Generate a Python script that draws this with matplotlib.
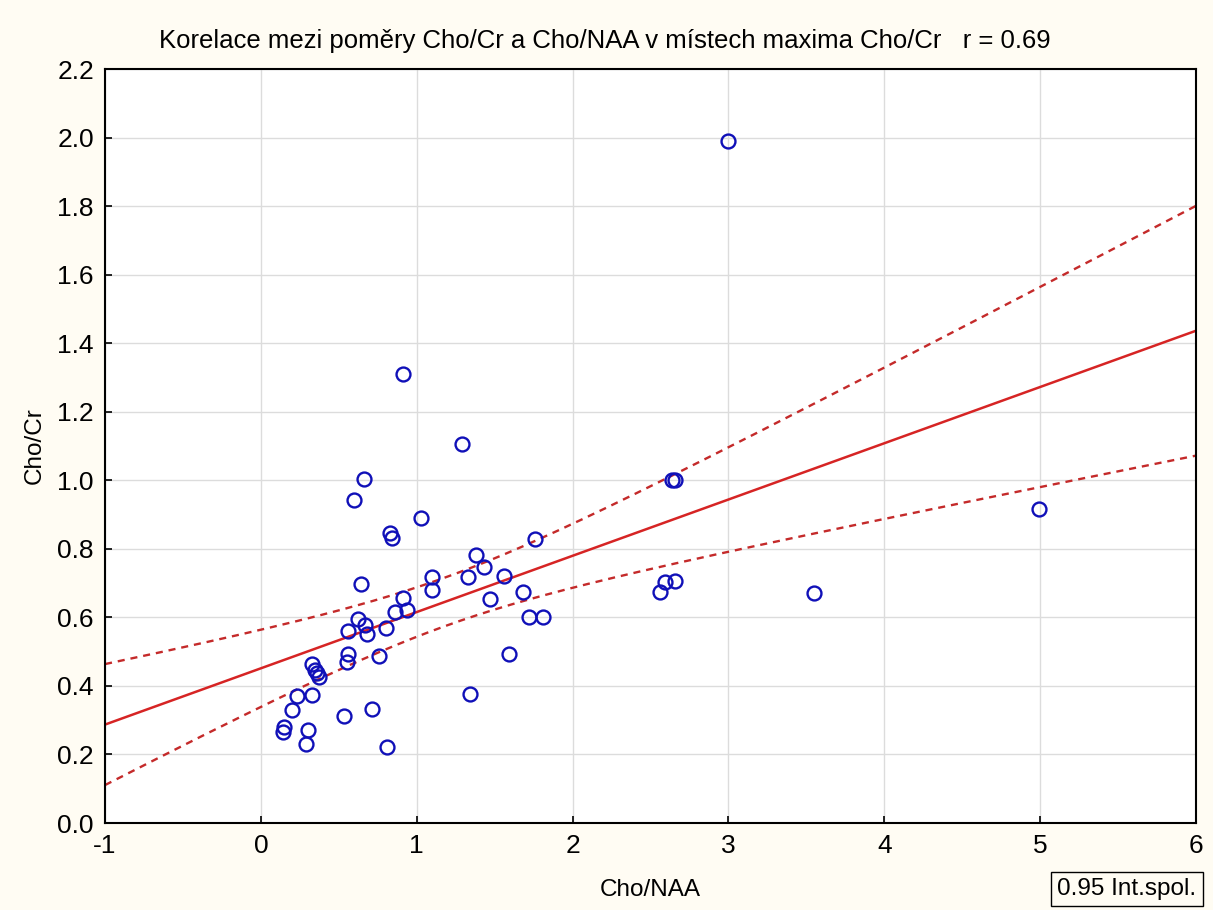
import numpy as np
import matplotlib
matplotlib.use('Agg')
import matplotlib.pyplot as plt

plt.rcParams['axes.unicode_minus'] = False
FONT = ['Liberation Sans', 'DejaVu Sans']

# --- data ---
cho_naa = [0.91, 1.29, 0.66, 0.60, 1.03, 0.83, 0.84, 1.76,
           1.38, 1.43, 1.10, 1.10, 1.33, 1.56, 1.68, 1.47, 1.72, 1.81, 1.59, 1.34,
           0.64, 0.91, 0.86, 0.94, 0.62, 0.67, 0.68, 0.56, 0.80,
           0.56, 0.55, 0.76, 0.33, 0.35, 0.36, 0.37,
           0.23, 0.33, 0.20, 0.15, 0.14, 0.30, 0.29, 0.53, 0.71, 0.81,
           3.00, 2.64, 2.655, 2.56, 2.59, 2.66, 3.55, 4.99]
cho_cr = [1.31, 1.107, 1.003, 0.943, 0.889, 0.845, 0.832, 0.829,
          0.781, 0.748, 0.719, 0.679, 0.717, 0.722, 0.675, 0.653, 0.600, 0.600, 0.493, 0.376,
          0.697, 0.657, 0.617, 0.621, 0.596, 0.577, 0.551, 0.561, 0.570,
          0.493, 0.471, 0.487, 0.464, 0.446, 0.437, 0.427,
          0.371, 0.375, 0.329, 0.279, 0.265, 0.270, 0.231, 0.312, 0.333, 0.223,
          1.99, 1.001, 1.001, 0.673, 0.704, 0.706, 0.671, 0.916]
r_text = '0.69'

x = np.array(cho_naa)
y = np.array(cho_cr)
n = len(x)

# linear fit + 95% confidence band for the mean
b, a = np.polyfit(x, y, 1)
resid = y - (a + b * x)
s = np.sqrt(np.sum(resid ** 2) / (n - 2))
t_crit = 2.006
xs = np.linspace(-1, 6, 200)
ys = a + b * xs
se = s * np.sqrt(1 / n + (xs - x.mean()) ** 2 / np.sum((x - x.mean()) ** 2))

bg = '#fffcf3'
fig = plt.figure(figsize=(12.13, 9.10), dpi=100, facecolor=bg)
ax = fig.add_axes([0.0866, 0.0956, 0.8994, 0.8284])
ax.set_facecolor('white')

ax.plot(xs, ys, color='#d62424', linewidth=1.8, zorder=2)
ax.plot(xs, ys + t_crit * se, color='#c42a2a', linewidth=1.7, linestyle=(0, (3, 2.5)), zorder=2)
ax.plot(xs, ys - t_crit * se, color='#c42a2a', linewidth=1.7, linestyle=(0, (3, 2.5)), zorder=2)
ax.plot(x, y, 'o', markerfacecolor='none', markeredgecolor='#1010b8',
        markersize=10, markeredgewidth=1.7, zorder=3)

ax.set_xlim(-1, 6)
ax.set_ylim(0, 2.2)
ax.set_xticks(range(-1, 7))
ax.set_yticks(np.arange(0, 2.21, 0.2))
ax.set_yticklabels([f'{v:.1f}' for v in np.arange(0, 2.21, 0.2)])
ax.grid(True, color='#dcdcdc', linewidth=1)
ax.set_axisbelow(True)
for sp in ax.spines.values():
    sp.set_linewidth(1.5)
    sp.set_color('black')
ax.tick_params(direction='in', length=5, width=1.2, labelsize=19, pad=8,
               top=False, right=False)
for lab in ax.get_xticklabels() + ax.get_yticklabels():
    lab.set_fontfamily(FONT)

ax.set_xlabel('Cho/NAA', fontsize=17.5, family=FONT, labelpad=15)
ax.set_ylabel('Cho/Cr', fontsize=17.5, family=FONT, labelpad=8)
fig.text(0.499, 0.955, f'Korelace mezi poměry Cho/Cr a Cho/NAA v místech maxima Cho/Cr   r = {r_text}',
         ha='center', va='center', fontsize=18.5, family=FONT)
fig.text(0.929, 0.023, '0.95 Int.spol.', ha='center', va='center', fontsize=17.5,
         family=FONT,
         bbox=dict(boxstyle='square,pad=0.25', facecolor=bg, edgecolor='black', linewidth=1))

fig.savefig('out.png', dpi=100, facecolor=bg)
